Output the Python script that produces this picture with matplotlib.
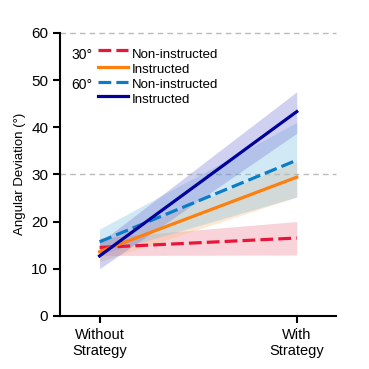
import matplotlib
matplotlib.use("Agg")
import matplotlib.pyplot as plt
from matplotlib.lines import Line2D

plt.rcParams["font.family"] = ["Liberation Sans", "DejaVu Sans"]

conditions = ["Without\nStrategy", "With\nStrategy"]
series = ["30° Non-instructed", "30° Instructed", "60° Non-instructed", "60° Instructed"]
means = {
    "30° Non-instructed": [14.5, 16.5],
    "30° Instructed": [13.6, 29.4],
    "60° Non-instructed": [15.7, 33.0],
    "60° Instructed": [12.7, 43.3],
}
lower = {
    "30° Non-instructed": [12.8, 12.9],
    "30° Instructed": [11.5, 25.2],
    "60° Non-instructed": [13.0, 25.2],
    "60° Instructed": [10.0, 38.7],
}
upper = {
    "30° Non-instructed": [16.5, 20.0],
    "30° Instructed": [15.5, 32.7],
    "60° Non-instructed": [18.4, 41.0],
    "60° Instructed": [15.5, 47.5],
}
line_colors = {
    "30° Non-instructed": "#e8173a",
    "30° Instructed": "#ff7f0e",
    "60° Non-instructed": "#0b7dc6",
    "60° Instructed": "#02029a",
}
band_colors = {
    "30° Non-instructed": ("#ee6e85", 0.3),
    "30° Instructed": ("#ffbe80", 0.35),
    "60° Non-instructed": ("#7cc0e4", 0.35),
    "60° Instructed": ("#7a7ad4", 0.35),
}
dash = (0, (4, 1.6))
styles = {
    "30° Non-instructed": dash,
    "30° Instructed": "-",
    "60° Non-instructed": dash,
    "60° Instructed": "-",
}

fig = plt.figure(figsize=(3.69, 3.69), dpi=100)
ax = fig.add_axes([0.163, 0.144, 0.748, 0.767])

x = [0, 1]
for s in series:
    c, a = band_colors[s]
    ax.fill_between(x, lower[s], upper[s], color=c, alpha=a, linewidth=0)
for s in series:
    ax.plot(x, means[s], color=line_colors[s], linestyle=styles[s], linewidth=2.3)

for yv in (30, 60):
    ax.axhline(yv, color="#bbbbbb", linestyle=(0, (4, 3)), linewidth=1, zorder=0, clip_on=False)

ax.set_xlim(-0.2, 1.2)
ax.set_ylim(0, 60)
ax.set_yticks([0, 10, 20, 30, 40, 50, 60])
ax.set_xticks(x)
ax.set_xticklabels(conditions, fontsize=10.5)
ax.tick_params(axis="y", labelsize=11, width=1.5, length=5)
ax.tick_params(axis="x", width=1.5, length=5)
ax.set_ylabel("Angular Deviation (°)", fontsize=9.5)
for side in ("top", "right"):
    ax.spines[side].set_visible(False)
for side in ("left", "bottom"):
    ax.spines[side].set_linewidth(1.5)

# legend drawn by hand in axes fraction: (line y, text y, series, group label)
rows = [(0.938, 0.920, "30° Non-instructed", "30°"),
        (0.881, 0.870, "30° Instructed", None),
        (0.828, 0.815, "60° Non-instructed", "60°"),
        (0.777, 0.764, "60° Instructed", None)]
for ly, ty, s, grp in rows:
    ax.add_line(Line2D([0.137, 0.245], [ly, ly], transform=ax.transAxes,
                       color=line_colors[s], linestyle=styles[s], linewidth=2.3))
    ax.text(0.26, ty, s.split(" ", 1)[1], transform=ax.transAxes,
            fontsize=9.5, va="center", ha="left")
    if grp:
        ax.text(0.118, ty, grp, transform=ax.transAxes,
                fontsize=10, va="center", ha="right")

fig.savefig("out.png", dpi=100)
